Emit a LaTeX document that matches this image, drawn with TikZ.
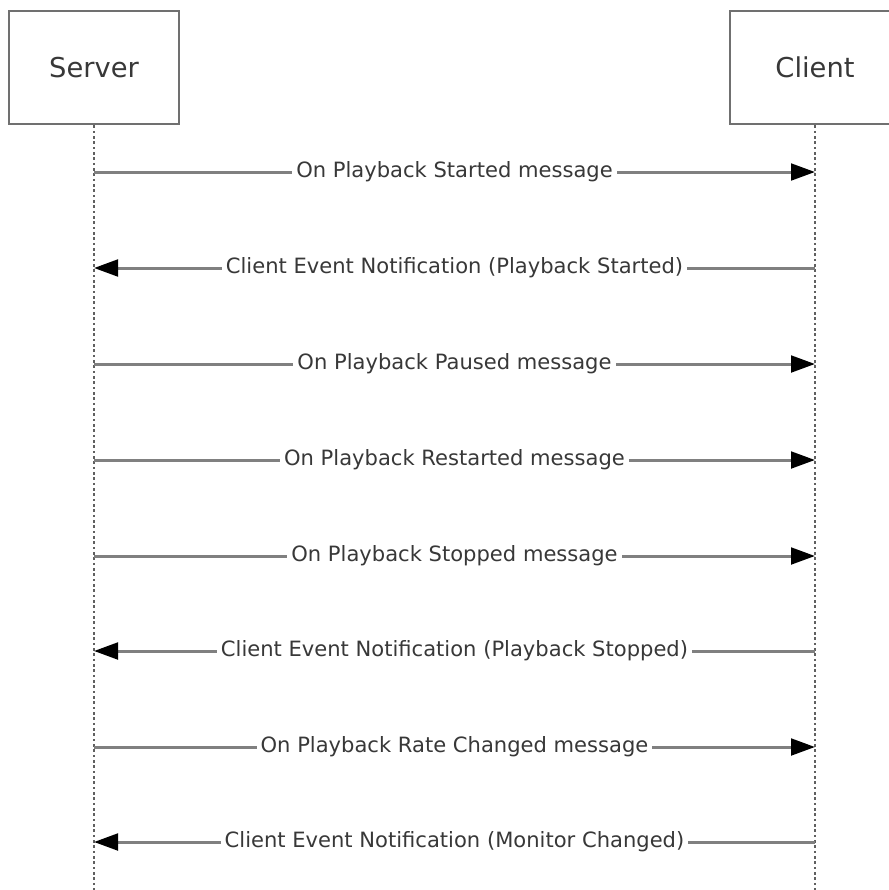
\documentclass[tikz,border=0pt]{standalone}
\usepackage{fontspec}
\setmainfont{DejaVu Sans}
\usetikzlibrary{
    arrows.meta,
    positioning
}
\definecolor{linegray}{HTML}{808080}
\definecolor{dotgray}{HTML}{606060}
\definecolor{boxgray}{HTML}{707070}
\definecolor{textgray}{HTML}{383838}
\tikzset{
    actor/.style={draw=boxgray, line width=2.2pt, minimum width=127.5pt, minimum height=84.75pt,
        text=textgray, font=\fontsize{20.5}{24}\selectfont},
    lifeline/.style={draw=dotgray, line width=2.2pt, dash pattern=on 2pt off 2pt},
    msg/.style={draw=linegray, line width=2.25pt},
    tocli/.style={-{Triangle[length=18pt,width=12.5pt,color=black]}},
    tosrv/.style={{Triangle[length=18pt,width=12.5pt,color=black]}-},
    lbl/.style={fill=white, text=textgray, inner xsep=3pt, inner ysep=2pt,
        font=\fontsize{15.8}{18}\selectfont}
}
\begin{document}
\begin{tikzpicture}[x=0.75pt, y=-0.75pt]
    \useasboundingbox (0,0) rectangle (889,890);
    % participants
    \node[actor] (srv) at (94,67.5) {Server};
    \node[actor] (cli) at (815,67.5) {Client};
    \coordinate (srvend) at (94,890);
    \coordinate (cliend) at (815,890);
    \draw[lifeline] (srv.south) -- (srvend);
    \draw[lifeline] (cli.south) -- (cliend);
    % messages
    \foreach \y/\dir/\txt [count=\i] in {
        172/tocli/On Playback Started message,
        268/tosrv/Client Event Notification (Playback Started),
        364/tocli/On Playback Paused message,
        460/tocli/On Playback Restarted message,
        556/tocli/On Playback Stopped message,
        651/tosrv/Client Event Notification (Playback Stopped),
        747/tocli/On Playback Rate Changed message,
        842/tosrv/Client Event Notification (Monitor Changed)} {
        \coordinate (s\i) at (94,\y);
        \coordinate (c\i) at (815,\y);
        \draw[msg,\dir] (s\i) -- node[lbl] {\txt} (c\i);
    }
\end{tikzpicture}
\end{document}
